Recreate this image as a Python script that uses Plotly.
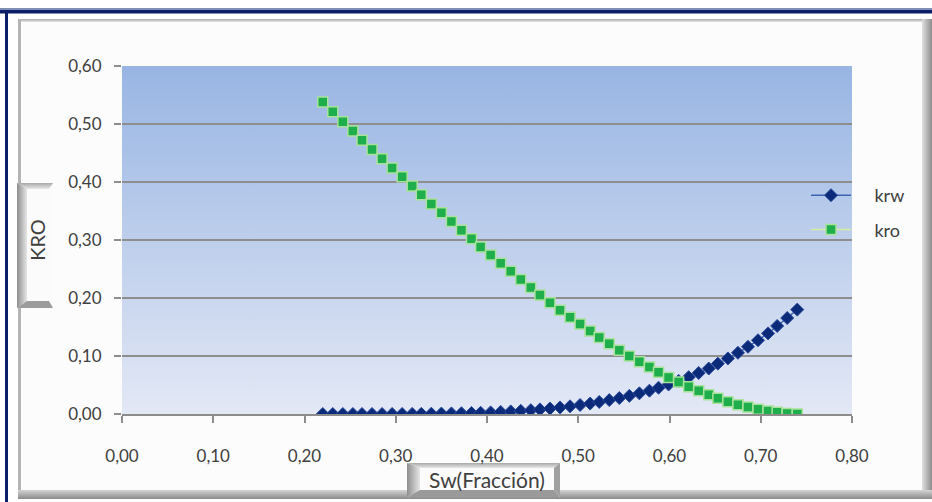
import base64
import plotly.graph_objects as go

# ---------------- data ----------------
sw = [0.220, 0.231, 0.242, 0.253, 0.263, 0.274, 0.285, 0.296, 0.307, 0.318,
      0.328, 0.339, 0.350, 0.361, 0.372, 0.383, 0.393, 0.404, 0.415, 0.426,
      0.437, 0.448, 0.458, 0.469, 0.480, 0.491, 0.502, 0.513, 0.523, 0.534,
      0.545, 0.556, 0.567, 0.578, 0.588, 0.599, 0.610, 0.621, 0.632, 0.643,
      0.653, 0.664, 0.675, 0.686, 0.697, 0.708, 0.718, 0.729, 0.740]

krw = [0.0000, 0.0000, 0.0000, 0.0000, 0.0000, 0.0000, 0.0000, 0.0001, 0.0001, 0.0002,
       0.0003, 0.0005, 0.0007, 0.0010, 0.0013, 0.0017, 0.0022, 0.0028, 0.0036, 0.0044,
       0.0054, 0.0066, 0.0079, 0.0095, 0.0113, 0.0132, 0.0155, 0.0180, 0.0208, 0.0240,
       0.0275, 0.0313, 0.0356, 0.0402, 0.0453, 0.0509, 0.0570, 0.0635, 0.0707, 0.0784,
       0.0868, 0.0958, 0.1055, 0.1159, 0.1271, 0.1390, 0.1518, 0.1655, 0.1800]

kro = [0.538, 0.521, 0.504, 0.488, 0.472, 0.456, 0.440, 0.424, 0.409, 0.393,
       0.378, 0.362, 0.347, 0.332, 0.317, 0.302, 0.288, 0.274, 0.260, 0.246,
       0.232, 0.218, 0.205, 0.192, 0.179, 0.167, 0.155, 0.143, 0.132, 0.121,
       0.110, 0.100, 0.090, 0.081, 0.072, 0.063, 0.055, 0.047, 0.040, 0.033,
       0.027, 0.021, 0.016, 0.012, 0.008, 0.005, 0.003, 0.001, 0.000]

x_ticks = [0.0, 0.1, 0.2, 0.3, 0.4, 0.5, 0.6, 0.7, 0.8]
x_tick_text = ["0,00", "0,10", "0,20", "0,30", "0,40", "0,50", "0,60", "0,70", "0,80"]
y_ticks = [0.0, 0.1, 0.2, 0.3, 0.4, 0.5, 0.6]
y_tick_text = ["0,00", "0,10", "0,20", "0,30", "0,40", "0,50", "0,60"]

# ---------------- geometry ----------------
W, H = 932, 502
ML, MR, MT, MB = 122, 80, 66, 88
PW, PH = W - ML - MR, H - MT - MB

FONT = "Lato, 'Liberation Sans', sans-serif"
TXT = "#404040"
NBSP = "\u00a0" * 4

# decorative background (frame, bevels, plot-area gradient, title boxes)
svg = f"""<svg xmlns="http://www.w3.org/2000/svg" width="{W}" height="{H}" viewBox="0 0 {W} {H}" preserveAspectRatio="none">
<defs>
<linearGradient id="pg" x1="0" y1="0" x2="0" y2="1">
<stop offset="0" stop-color="#98b5e3"/><stop offset="1" stop-color="#e3e8f5"/></linearGradient>
<linearGradient id="rb" x1="0" y1="0" x2="1" y2="0">
<stop offset="0" stop-color="#e0e0e0"/><stop offset="1" stop-color="#8c8c8c"/></linearGradient>
<linearGradient id="bb" x1="0" y1="0" x2="0" y2="1">
<stop offset="0" stop-color="#d4d4d4"/><stop offset="1" stop-color="#8a8a8a"/></linearGradient>
<linearGradient id="lb" x1="0" y1="0" x2="1" y2="0">
<stop offset="0" stop-color="#8e8e8e"/><stop offset="1" stop-color="#e6e6e6"/></linearGradient>
<linearGradient id="tb" x1="0" y1="0" x2="0" y2="1">
<stop offset="0" stop-color="#a8a8a8"/><stop offset="1" stop-color="#e8e8e8"/></linearGradient>
</defs>
<rect x="0" y="0" width="{W}" height="{H}" fill="#ffffff"/>
<rect x="0" y="8" width="{W}" height="2" fill="#8090b4"/>
<rect x="0" y="10" width="{W}" height="3.5" fill="#0b1f6b"/>
<rect x="5" y="10" width="3" height="{H-10}" fill="#0b1f6b"/>
<rect x="19" y="19" width="906" height="475" fill="#fcfcfc"/>
<rect x="19" y="19" width="906" height="3" fill="url(#tb)"/>
<rect x="18" y="19" width="3" height="478" fill="#b4b4b4"/>
<rect x="922" y="19" width="10" height="480" fill="url(#rb)"/>
<rect x="18" y="490" width="914" height="9" fill="url(#bb)"/>
<rect x="{ML}" y="{MT}" width="{PW}" height="{PH}" fill="url(#pg)"/>
<rect x="17" y="183" width="36" height="125" fill="#fbfbfb"/>
<polygon points="17,183 53,183 49,189 27,189" fill="url(#tb)"/>
<polygon points="17,183 27,189 27,301 17,308" fill="url(#lb)"/>
<polygon points="17,308 27,301 49,301 53,308" fill="#9c9c9c"/>
<rect x="407" y="463" width="153" height="34" fill="#fbfbfb"/>
<polygon points="407,463 560,463 554,468 420,468" fill="url(#tb)"/>
<polygon points="407,463 420,468 420,490 407,497" fill="url(#lb)"/>
<polygon points="560,463 554,468 554,490 560,497" fill="#a0a0a0"/>
<polygon points="407,497 420,490 554,490 560,497" fill="#9a9a9a"/>
</svg>"""
svg_uri = "data:image/svg+xml;base64," + base64.b64encode(svg.encode()).decode()

fig = go.Figure()

fig.add_trace(go.Scatter(
    x=sw, y=krw, name=NBSP + "krw", mode="lines+markers",
    line=dict(color="#3d64b4", width=1.5),
    marker=dict(symbol="diamond", size=10, color="#0b2a7a",
                line=dict(color="#2a4a98", width=1)),
    legendgroup="a",
))
fig.add_trace(go.Scatter(
    x=sw, y=kro, name=NBSP + "kro", mode="lines+markers",
    line=dict(color="#d6ee9c", width=1.5),
    marker=dict(symbol="square", size=10, color="#1fae4c",
                line=dict(color="#a9e29a", width=1.5)),
    legendgroup="b",
))

fig.update_layout(
    width=W, height=H,
    margin=dict(l=ML, r=MR, t=MT, b=MB, autoexpand=False),
    paper_bgcolor="rgba(0,0,0,0)",
    plot_bgcolor="rgba(0,0,0,0)",
    font=dict(family=FONT, color=TXT, size=17),
    images=[dict(source=svg_uri, xref="paper", yref="paper",
                 x=-ML / PW, y=1 + MT / PH, sizex=W / PW, sizey=H / PH,
                 xanchor="left", yanchor="top", sizing="stretch", layer="below")],
    legend=dict(x=(806 - ML) / PW, y=(414 - 177) / PH, xanchor="left", yanchor="top",
                bgcolor="rgba(0,0,0,0)", borderwidth=0,
                font=dict(family=FONT, size=18, color=TXT),
                tracegroupgap=8, itemwidth=40),
    showlegend=True,
)

fig.update_xaxes(
    range=[0, 0.8], tickvals=x_ticks, ticktext=x_tick_text,
    showgrid=False, zeroline=False,
    showline=True, linecolor="#8c8c8c", linewidth=2,
    ticks="outside", ticklen=7, tickwidth=1.5, tickcolor="#8c8c8c",
    ticklabelstandoff=19,
    tickfont=dict(family=FONT, size=17, color=TXT),
    title=dict(text="Sw(Fracción)", font=dict(family=FONT, size=21, color=TXT), standoff=8),
)
fig.update_yaxes(
    range=[0, 0.6], tickvals=y_ticks, ticktext=y_tick_text,
    showgrid=True, gridcolor="#8e8e8e", gridwidth=2,
    zeroline=False, showline=False,
    ticks="outside", ticklen=7, tickwidth=1.5, tickcolor="#8c8c8c",
    ticklabelstandoff=9,
    tickfont=dict(family=FONT, size=17, color=TXT),
    title=dict(text="KRO", font=dict(family=FONT, size=20, color=TXT), standoff=17),
)

fig.write_html("out.html", config={"displayModeBar": False},
               post_script="document.body.style.margin='0';")
